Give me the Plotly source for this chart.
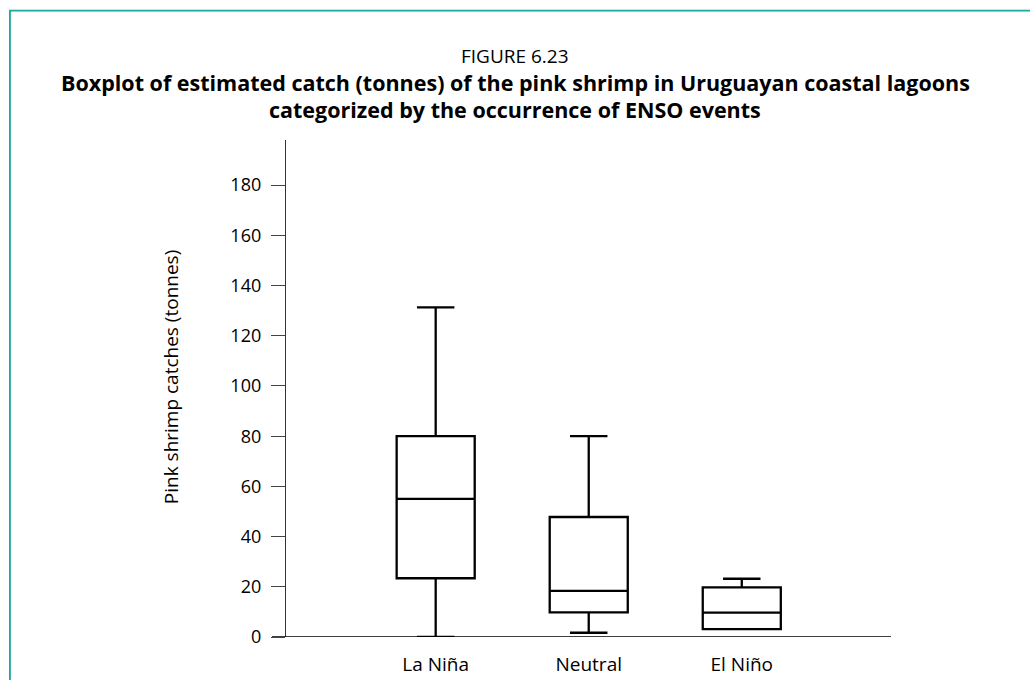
import plotly.graph_objects as go

# Catch statistics (tonnes) per ENSO phase
categories = ["La Niña", "Neutral", "El Niño"]
lower_fence = [0, 1.7, 3.1]
q1 = [23.4, 9.8, 3.1]
median = [55, 18.4, 9.7]
q3 = [80, 47.8, 19.8]
upper_fence = [131.3, 80, 23.2]
y_ticks = [0, 20, 40, 60, 80, 100, 120, 140, 160, 180]

W_PX, H_PX = 1030, 680
L, R, T, B = 285.7, 139, 140, 42.7
PW, PH = W_PX - L - R, H_PX - T - B


def px_x(px):
    return (px - L) / PW


def px_y(py):
    return (H_PX - B - py) / PH


FONT = "Open Sans, Noto Sans, DejaVu Sans, sans-serif"

fig = go.Figure()
fig.add_trace(go.Box(
    x=categories,
    lowerfence=lower_fence,
    q1=q1,
    median=median,
    q3=q3,
    upperfence=upper_fence,
    boxpoints=False,
    width=0.51,
    whiskerwidth=0.48,
    fillcolor="white",
    line=dict(color="black", width=2.3),
    hoverinfo="skip",
    showlegend=False,
))

fig.update_layout(
    width=W_PX,
    height=H_PX,
    margin=dict(l=L, r=R, t=T, b=B, pad=0, autoexpand=False),
    paper_bgcolor="white",
    plot_bgcolor="white",
    font=dict(family=FONT, size=18, color="black"),
    xaxis=dict(
        range=[-0.978, 2.975],
        showline=False,
        showgrid=False,
        zeroline=False,
        ticks="",
        tickfont=dict(size=19),
        ticklabelstandoff=14,
        automargin=False,
    ),
    yaxis=dict(
        range=[0, 198],
        tickvals=y_ticks,
        showline=True,
        linecolor="#333333",
        linewidth=1.3,
        showgrid=False,
        zeroline=False,
        ticks="outside",
        ticklen=14,
        tickwidth=1.3,
        tickcolor="#444444",
        tickfont=dict(size=18),
        ticklabelstandoff=6,
        automargin=False,
    ),
)

# horizontal baseline, extending left under the y ticks
fig.add_shape(type="line", xref="x domain", yref="y",
              x0=-14 / PW, x1=1, y0=0, y1=0,
              line=dict(color="black", width=1.5))

# teal frame around the figure
fig.add_shape(type="rect", xref="paper", yref="paper",
              x0=px_x(9.5), x1=px_x(1060), y0=px_y(10.5), y1=px_y(720),
              line=dict(color="#1ba69e", width=1.8), fillcolor="rgba(0,0,0,0)")

# titles
fig.add_annotation(text="FIGURE 6.23", xref="paper", yref="paper",
                   x=px_x(515), y=px_y(56), xanchor="center", yanchor="middle",
                   showarrow=False, font=dict(size=19, family=FONT))
fig.add_annotation(
    text="<b>Boxplot of estimated catch (tonnes) of the pink shrimp in Uruguayan coastal lagoons</b>",
    xref="paper", yref="paper", x=px_x(515), y=px_y(82),
    xanchor="center", yanchor="middle", showarrow=False,
    font=dict(size=21.5, family=FONT))
fig.add_annotation(
    text="<b>categorized by the occurrence of ENSO events</b>",
    xref="paper", yref="paper", x=px_x(515), y=px_y(109),
    xanchor="center", yanchor="middle", showarrow=False,
    font=dict(size=21.5, family=FONT))

# y axis title
fig.add_annotation(text="Pink shrimp catches (tonnes)", xref="paper", yref="paper",
                   x=px_x(170), y=px_y(377), xanchor="center", yanchor="middle",
                   textangle=-90, showarrow=False, font=dict(size=19, family=FONT))

fig.write_html("out.html")
